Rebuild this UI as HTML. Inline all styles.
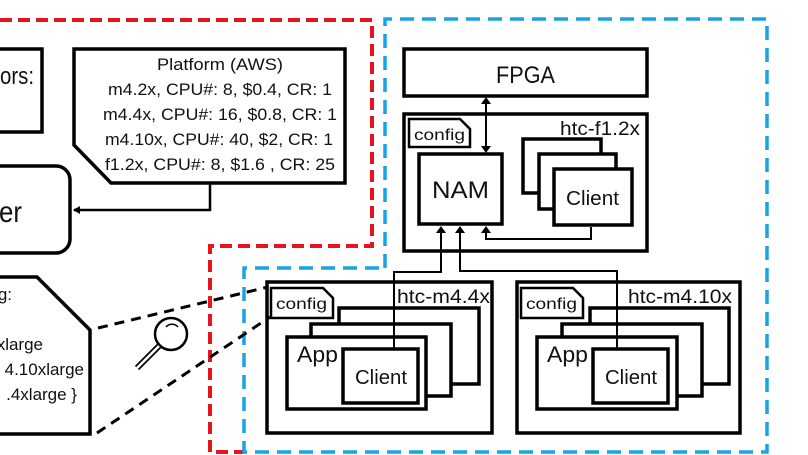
<!DOCTYPE html>
<html><head><meta charset="utf-8"><style>
html,body{margin:0;padding:0;background:#fff;width:808px;height:455px;overflow:hidden}
text{font-family:"Liberation Sans",sans-serif;fill:#111}
</style></head><body>
<svg width="808" height="455" viewBox="0 0 808 455" xmlns="http://www.w3.org/2000/svg">
<defs>
<marker id="ah" markerWidth="8" markerHeight="8" refX="6" refY="4" orient="auto" markerUnits="userSpaceOnUse">
<path d="M0,0 L7,4 L0,8 z" fill="#000"/></marker>
</defs>
<path d="M0,20 H372 V246 H210 V452 H244" fill="none" stroke="#e8141c" stroke-width="4" stroke-dasharray="12,6"/>
<path d="M385,268 V19 H767 V452 H244 V268 H385" fill="none" stroke="#18a4e4" stroke-width="3.5" stroke-dasharray="14,8"/>

<rect x="-10" y="49" width="52" height="83" fill="#fff" stroke="#000" stroke-width="3.5"/>
<text x="0" y="84" font-size="24" textLength="34" lengthAdjust="spacingAndGlyphs">ors:</text>
<rect x="-20" y="166" width="90" height="87" rx="14" fill="#fff" stroke="#000" stroke-width="3.5"/>
<text x="-1" y="222" font-size="30" textLength="23" lengthAdjust="spacingAndGlyphs">er</text>
<path d="M74,49 H345 V183 H111 L74,145 Z" fill="#fff" stroke="#000" stroke-width="3.5"/>
<g font-size="16.5" lengthAdjust="spacingAndGlyphs">
<text x="157" y="70" textLength="126" lengthAdjust="spacingAndGlyphs">Platform (AWS)</text>
<text x="108" y="95" textLength="224" lengthAdjust="spacingAndGlyphs">m4.2x, CPU#: 8, $0.4, CR: 1</text>
<text x="103" y="120" textLength="234" lengthAdjust="spacingAndGlyphs">m4.4x, CPU#: 16, $0.8, CR: 1</text>
<text x="105" y="145" textLength="228" lengthAdjust="spacingAndGlyphs">m4.10x, CPU#: 40, $2, CR: 1</text>
<text x="105" y="170" textLength="230" lengthAdjust="spacingAndGlyphs">f1.2x, CPU#: 8, $1.6 , CR: 25</text>
</g>
<path d="M210,184 V210 H74" fill="none" stroke="#000" stroke-width="2.5" marker-end="url(#ah)"/>
<path d="M-10,277 H37 L90,330 V434 H-10 Z" fill="#fff" stroke="#000" stroke-width="3.5"/>
<g font-size="17" text-anchor="end">
<text x="12" y="300">g:</text>
<text x="43" y="350">xlarge</text>
<text x="84" y="375">4.10xlarge</text>
<text x="77" y="400">.4xlarge }</text>
</g>
<path d="M98,328 L268,287" stroke="#000" stroke-width="3" stroke-dasharray="10,7"/>
<path d="M97,433 L270,317" stroke="#000" stroke-width="3" stroke-dasharray="10,7"/>
<circle cx="171" cy="334" r="16" fill="#fff" stroke="#000" stroke-width="2.5"/>
<path d="M166,327 a8,8 0 0 1 12,0" fill="none" stroke="#000" stroke-width="1.5"/>
<path d="M159,346 L137,368" stroke="#000" stroke-width="6"/>
<path d="M159,346 L137,368" stroke="#fff" stroke-width="2.5"/>

<rect x="404" y="49" width="243" height="47" fill="#fff" stroke="#000" stroke-width="3.5"/>
<text x="496" y="83" font-size="24" textLength="59" lengthAdjust="spacingAndGlyphs">FPGA</text>
<rect x="404" y="114" width="243" height="137" fill="#fff" stroke="#000" stroke-width="3.5"/>
<text x="560" y="135" font-size="19" textLength="80" lengthAdjust="spacingAndGlyphs">htc-f1.2x</text>
<path d="M409,119 H460 L470,129 V147 H409 Z" fill="#fff" stroke="#000" stroke-width="2.5"/>
<text x="414" y="140" font-size="16" textLength="51" lengthAdjust="spacingAndGlyphs">config</text>
<rect x="419" y="154" width="83" height="70" fill="#fff" stroke="#000" stroke-width="3.5"/>
<text x="432" y="198" font-size="24" textLength="57" lengthAdjust="spacingAndGlyphs">NAM</text>
<rect x="523" y="139" width="78" height="54" fill="#fff" stroke="#000" stroke-width="3.5"/>
<rect x="539" y="154" width="77" height="55" fill="#fff" stroke="#000" stroke-width="3.5"/>
<rect x="554" y="169" width="78" height="56" fill="#fff" stroke="#000" stroke-width="3.5"/>
<text x="566" y="205" font-size="20" textLength="53" lengthAdjust="spacingAndGlyphs">Client</text>
<path d="M486,103 V147" stroke="#000" stroke-width="2"/>
<path d="M481,104 L486,97 L491,104 Z" fill="#000"/>
<path d="M481,146 L486,153 L491,146 Z" fill="#000"/>
<path d="M591,227 V239 H486 V231" fill="none" stroke="#000" stroke-width="2"/>
<path d="M481,233 L486,226 L491,233 Z" fill="#000"/>
<path d="M394,349 V272 H441 V231" fill="none" stroke="#000" stroke-width="2"/>
<path d="M436,233 L441,226 L446,233 Z" fill="#000"/>
<path d="M617,349 V271 H460 V231" fill="none" stroke="#000" stroke-width="2"/>
<path d="M455,233 L460,226 L465,233 Z" fill="#000"/>

<rect x="267" y="282" width="225" height="151" fill="none" stroke="#000" stroke-width="3.5"/>
<text x="397" y="303" font-size="19" textLength="93" lengthAdjust="spacingAndGlyphs">htc-m4.4x</text>
<path d="M271,288 H323 L333,298 V318 H271 Z" fill="#fff" stroke="#000" stroke-width="2.5"/>
<text x="276" y="309" font-size="16" textLength="51" lengthAdjust="spacingAndGlyphs">config</text>
<rect x="339" y="308" width="140" height="76" fill="#fff" stroke="#000" stroke-width="3.5"/>
<rect x="311" y="324" width="140" height="72" fill="#fff" stroke="#000" stroke-width="3.5"/>
<rect x="287" y="337" width="139" height="72" fill="#fff" stroke="#000" stroke-width="3.5"/>
<text x="297" y="362" font-size="22" textLength="41" lengthAdjust="spacingAndGlyphs">App</text>
<rect x="343" y="349" width="75" height="54" fill="#fff" stroke="#000" stroke-width="3.5"/>
<text x="355" y="384" font-size="20" textLength="52" lengthAdjust="spacingAndGlyphs">Client</text>
<path d="M394,272 V349" stroke="#000" stroke-width="2"/>

<rect x="517" y="282" width="223" height="151" fill="none" stroke="#000" stroke-width="3.5"/>
<text x="628" y="303" font-size="19" textLength="104" lengthAdjust="spacingAndGlyphs">htc-m4.10x</text>
<path d="M521,288 H573 L583,298 V318 H521 Z" fill="#fff" stroke="#000" stroke-width="2.5"/>
<text x="526" y="309" font-size="16" textLength="51" lengthAdjust="spacingAndGlyphs">config</text>
<rect x="590" y="308" width="139" height="76" fill="#fff" stroke="#000" stroke-width="3.5"/>
<rect x="562" y="324" width="140" height="72" fill="#fff" stroke="#000" stroke-width="3.5"/>
<rect x="537" y="337" width="140" height="72" fill="#fff" stroke="#000" stroke-width="3.5"/>
<text x="547" y="362" font-size="22" textLength="41" lengthAdjust="spacingAndGlyphs">App</text>
<rect x="593" y="349" width="75" height="54" fill="#fff" stroke="#000" stroke-width="3.5"/>
<text x="605" y="384" font-size="20" textLength="52" lengthAdjust="spacingAndGlyphs">Client</text>
<path d="M617,271 V349" stroke="#000" stroke-width="2"/>
</svg>
</body></html>
